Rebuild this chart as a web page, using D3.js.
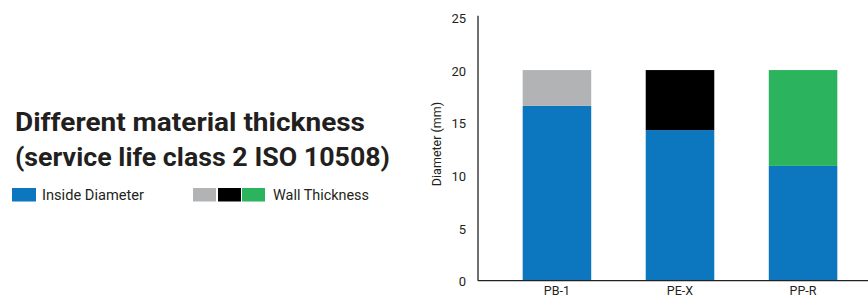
<!DOCTYPE html>
<html><head><meta charset="utf-8">
<script src="https://cdn.jsdelivr.net/npm/d3@7"></script>
<style>html,body{margin:0;padding:0;background:#fff;}svg{display:block;}</style>
</head><body>
<svg id="c" width="868" height="301"></svg>
<script>
const categories = ["PB-1", "PE-X", "PP-R"];
const insideDiameter = [16.6, 14.3, 10.9];
const wallThickness = [3.4, 5.7, 9.1];
const wallColors = ["#b1b3b5", "#000000", "#2bb35e"];
const insideColor = "#0c76bf";
const yTicks = [0, 5, 10, 15, 20, 25];
const titleLines = ["Different material thickness", "(service life class 2 ISO 10508)"];
const legendLabels = ["Inside Diameter", "Wall Thickness"];
const yLabel = "Diameter (mm)";

const svg = d3.select("#c");
const font = "Roboto, 'Open Sans', sans-serif";
const textColor = "#231f20";

const x = d3.scaleBand().domain(categories).range([478, 882]).paddingInner(0.443).paddingOuter(0.363);
const y = d3.scaleLinear().domain([0, 25]).range([280.7, 17.4]);

// bars
const g = svg.append("g");
g.selectAll("rect.inside").data(categories).join("rect")
  .attr("x", d => x(d)).attr("width", x.bandwidth())
  .attr("y", (d, i) => y(insideDiameter[i]))
  .attr("height", (d, i) => y(0) - y(insideDiameter[i]))
  .attr("fill", insideColor);
g.selectAll("rect.wall").data(categories).join("rect")
  .attr("x", d => x(d)).attr("width", x.bandwidth())
  .attr("y", (d, i) => y(insideDiameter[i] + wallThickness[i]))
  .attr("height", (d, i) => y(insideDiameter[i]) - y(insideDiameter[i] + wallThickness[i]))
  .attr("fill", (d, i) => wallColors[i]);

// y axis
const yAxis = svg.append("g").attr("transform", "translate(478,0)")
  .call(d3.axisLeft(y).tickValues(yTicks).tickSize(0).tickPadding(12));
yAxis.select(".domain").attr("d", `M0,${15.7}V${y(0)}`).attr("stroke", "#222").attr("stroke-width", 1.3);
yAxis.selectAll("text").attr("font-family", font).attr("font-size", 13).attr("fill", textColor).attr("dy", "0.4em");

// x axis
const xAxis = svg.append("g").attr("transform", `translate(0,${y(0)})`)
  .call(d3.axisBottom(x).tickSize(0).tickPadding(5));
xAxis.select(".domain").attr("d", `M478,0H868`).attr("stroke", "#222").attr("stroke-width", 1.3);
xAxis.selectAll("text").attr("font-family", font).attr("font-size", 12.5).attr("fill", textColor);

// y label
svg.append("text").attr("transform", "translate(441,144) rotate(-90)")
  .attr("text-anchor", "middle").attr("font-family", font).attr("font-size", 12.5)
  .attr("fill", textColor).text(yLabel);

// title
const titleWidths = [350, 375];
const titleY = [131, 166];
titleLines.forEach((t, i) => {
  svg.append("text").attr("x", 15).attr("y", titleY[i])
    .attr("font-family", font).attr("font-weight", 700).attr("font-size", 26)
    .attr("fill", textColor).attr("textLength", titleWidths[i]).attr("lengthAdjust", "spacingAndGlyphs")
    .text(t);
});

// legend
svg.append("rect").attr("x", 12).attr("y", 188).attr("width", 24).attr("height", 13.5).attr("fill", insideColor);
svg.append("text").attr("x", 42).attr("y", 200).attr("font-family", font).attr("font-size", 14)
  .attr("fill", textColor).attr("textLength", 102).attr("lengthAdjust", "spacingAndGlyphs").text(legendLabels[0]);
const wallLegendX = [193, 218, 242];
wallColors.forEach((c, i) => {
  svg.append("rect").attr("x", wallLegendX[i]).attr("y", 188).attr("width", 23).attr("height", 13.5).attr("fill", c);
});
svg.append("text").attr("x", 273).attr("y", 200).attr("font-family", font).attr("font-size", 14)
  .attr("fill", textColor).attr("textLength", 96).attr("lengthAdjust", "spacingAndGlyphs").text(legendLabels[1]);
</script>
</body></html>
